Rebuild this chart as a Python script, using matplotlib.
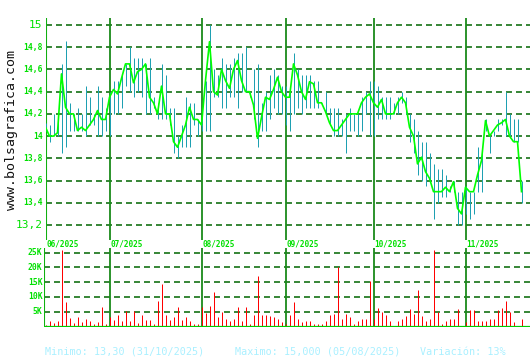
import numpy as np
import matplotlib
matplotlib.use("Agg")
import matplotlib.pyplot as plt

plt.rcParams['lines.scale_dashes'] = False

# ---------------- data (one value per trading day, 09/06/2025 .. 21/11/2025) -------------
close = [14.08, 14.00, 14.00, 14.03, 14.56, 14.26, 14.20, 14.20, 14.05, 14.08,
         14.05, 14.10, 14.15, 14.23, 14.15, 14.15, 14.35, 14.42, 14.38, 14.52,
         14.65, 14.65, 14.48, 14.58, 14.60, 14.65, 14.35, 14.30, 14.20, 14.45,
         14.20, 14.20, 13.95, 13.90, 14.00, 14.10, 14.26, 14.15, 14.15, 14.10,
         14.50, 14.85, 14.40, 14.37, 14.60, 14.50, 14.43, 14.60, 14.68, 14.50,
         14.40, 14.40, 14.28, 13.98, 14.17, 14.35, 14.33, 14.42, 14.53, 14.40,
         14.35, 14.35, 14.65, 14.55, 14.40, 14.33, 14.49, 14.47, 14.30, 14.30,
         14.22, 14.12, 14.05, 14.05, 14.10, 14.15, 14.20, 14.20, 14.20, 14.30,
         14.35, 14.38, 14.30, 14.26, 14.33, 14.20, 14.20, 14.20, 14.30, 14.35,
         14.30, 14.08, 14.00, 13.75, 13.81, 13.68, 13.62, 13.50, 13.50, 13.50,
         13.54, 13.50, 13.59, 13.35, 13.30, 13.54, 13.50, 13.50, 13.65, 13.78,
         14.14, 14.00, 14.05, 14.10, 14.12, 14.15, 14.00, 13.95, 13.95, 13.50]
high = [14.12, 14.10, 14.20, 14.20, 14.65, 14.86, 14.30, 14.20, 14.25, 14.20,
        14.45, 14.35, 14.20, 14.45, 14.35, 14.25, 14.40, 14.50, 14.50, 14.55,
        14.65, 14.80, 14.70, 14.70, 14.70, 14.65, 14.70, 14.35, 14.30, 14.65,
        14.55, 14.25, 14.25, 14.00, 14.10, 14.35, 14.30, 14.30, 14.15, 14.20,
        14.50, 15.00, 14.60, 14.55, 14.70, 14.65, 14.65, 14.70, 14.75, 14.75,
        14.80, 14.40, 14.60, 14.65, 14.30, 14.40, 14.55, 14.60, 14.55, 14.45,
        14.45, 14.40, 14.75, 14.60, 14.55, 14.55, 14.55, 14.50, 14.50, 14.30,
        14.40, 14.25, 14.25, 14.25, 14.15, 14.20, 14.25, 14.20, 14.20, 14.35,
        14.40, 14.50, 14.50, 14.45, 14.35, 14.35, 14.35, 14.30, 14.35, 14.40,
        14.35, 14.20, 14.15, 14.05, 13.95, 13.95, 13.85, 13.75, 13.70, 13.70,
        13.65, 13.55, 13.60, 13.50, 13.50, 13.55, 13.50, 13.50, 13.90, 13.90,
        14.15, 14.00, 14.05, 14.15, 14.15, 14.40, 14.20, 14.15, 14.15, 13.60]
low = [14.05, 13.95, 14.00, 14.00, 13.85, 13.90, 14.05, 14.05, 14.05, 14.05,
       14.00, 14.10, 14.10, 14.00, 14.00, 14.05, 14.00, 14.20, 14.20, 14.25,
       14.45, 14.40, 14.35, 14.40, 14.35, 14.20, 14.20, 14.25, 14.15, 14.15,
       14.15, 14.10, 13.85, 13.80, 13.90, 13.90, 13.90, 14.10, 14.00, 14.05,
       14.05, 14.05, 14.35, 14.35, 14.25, 14.25, 14.35, 14.35, 14.25, 14.40,
       14.40, 14.35, 14.15, 13.90, 14.05, 14.05, 14.15, 14.25, 14.20, 14.20,
       14.10, 14.05, 14.20, 14.25, 14.20, 14.25, 14.25, 14.25, 14.25, 14.28,
       14.20, 14.10, 14.00, 14.00, 14.00, 13.85, 14.05, 14.05, 14.00, 14.05,
       14.20, 14.00, 14.00, 14.15, 14.15, 14.15, 14.15, 14.20, 14.20, 14.30,
       14.20, 13.95, 13.85, 13.65, 13.60, 13.55, 13.60, 13.25, 13.40, 13.45,
       13.45, 13.50, 13.50, 13.20, 13.20, 13.30, 13.25, 13.30, 13.50, 13.50,
       14.05, 13.85, 14.00, 14.05, 14.10, 14.00, 14.00, 13.95, 13.95, 13.40]
volume_k = [0.45, 1.8, 1.1, 1.8, 25.9, 8.3, 2.8, 1.1, 3.1, 1.5,
            2.5, 1.8, 0.7, 1.4, 6.6, 0.7, 3.1, 2.2, 3.8, 1.8,
            5.3, 1.8, 5.2, 1.1, 3.8, 2.2, 2.2, 0.7, 8.6, 14.3,
            3.8, 2.2, 3.2, 6.5, 2.2, 3.2, 1.8, 1.0, 0.7, 6.5,
            4.5, 6.9, 11.7, 3.1, 4.9, 2.7, 1.8, 2.5, 6.6, 1.8,
            6.5, 0.7, 3.8, 17.0, 3.8, 3.8, 3.6, 3.3, 2.4, 1.4,
            0.7, 3.8, 8.3, 2.4, 1.4, 1.8, 2.0, 0.7, 1.0, 0.7,
            2.0, 3.8, 4.4, 20.0, 2.4, 4.1, 3.1, 0.7, 2.0, 2.4,
            2.4, 15.3, 2.7, 6.1, 4.9, 3.8, 2.0, 0.3, 1.7, 2.7,
            3.4, 5.8, 4.1, 12.3, 3.4, 2.0, 2.7, 25.9, 4.8, 1.0,
            1.7, 2.4, 2.4, 5.8, 0.1, 1.4, 5.5, 5.5, 2.0, 2.0,
            2.0, 2.7, 2.7, 5.5, 6.1, 8.5, 4.8, 1.4, 0.3, 2.4]
month_labels = ['06/2025', '07/2025', '08/2025', '09/2025', '10/2025', '11/2025']
month_start = [0, 16, 39, 60, 82, 105]
price_ticks = [13.2, 13.4, 13.6, 13.8, 14.0, 14.2, 14.4, 14.6, 14.8, 15.0]
price_tick_labels = ['13,2', '13,4', '13,6', '13,8', '14', '14,2', '14,4', '14,6', '14,8', '15']
vol_ticks = [5, 10, 15, 20, 25]
vol_tick_labels = ['5K', '10K', '15K', '20K', '25K']
footer = ['Minimo: 13,30 (31/10/2025)', 'Maximo: 15,000 (05/08/2025)', 'Variación: 13%']

# ---------------- styling ----------------
W, H = 530, 360
BAR = '#1ea0b2'
LINE = '#00ff00'
GRID = '#006400'
MONTH = '#1a8a1a'
AXIS = '#10b010'
TXT = '#00e000'
FOOT = '#aaf0ff'
MONO = 'DejaVu Sans Mono'
DASH = (0, (4.3, 2.9))

def box(x0, y0, x1, y1):
    return [x0 / W, 1 - y1 / H, (x1 - x0) / W, (y1 - y0) / H]

fig = plt.figure(figsize=(W / 100, H / 100), dpi=100)
fig.patch.set_facecolor('white')

x = np.arange(len(close))

# ---- price panel ----
ax = fig.add_axes(box(45.5, 18, 530.5, 240))
ax.set_xlim(0, 121.25)
ax.set_ylim(13.065, 15.063)
ax.axis('off')
for v in price_ticks:
    ax.axhline(v, color=GRID, lw=1.1, ls=DASH, zorder=1)
for p in month_start[1:]:
    ax.axvline(p, color=MONTH, lw=1.3, zorder=2)
ax.axvline(0, color=AXIS, lw=1.5, zorder=2)
ax.vlines(x, low, high, color=BAR, lw=0.72, zorder=3)
ax.plot(x, close, color=LINE, lw=1.2, zorder=4)

ytr = ax.get_yaxis_transform()
for v, lab in zip(price_ticks, price_tick_labels):
    big = lab in ('15', '13,2')
    ax.text(-3 / 485, v, lab, transform=ytr, ha='right', va='center',
            family=MONO, fontsize=8.0 if big else 5.8,
            fontweight='normal' if big else 'bold', color=TXT)

xtr = ax.get_xaxis_transform()
for p, lab in zip(month_start, month_labels):
    ax.text(p + 0.25, -4 / 222, lab, transform=xtr, ha='left', va='center',
            family=MONO, fontsize=5.6, fontweight='bold', color=TXT, clip_on=False)

# ---- volume panel ----
av = fig.add_axes(box(43.5, 248, 530.5, 326.5))
av.set_xlim(-0.5, 121.25)
av.set_ylim(0, 26.6)
av.axis('off')
for v in vol_ticks:
    av.axhline(v, color=GRID, lw=1.1, ls=DASH, zorder=1)
for p in month_start[1:]:
    av.axvline(p, color=MONTH, lw=1.3, zorder=2)
av.axvline(-0.5, color=AXIS, lw=1.5, zorder=2)
av.vlines(x, 0, volume_k, color='#ff0000', lw=0.72, zorder=3)
av.axhline(0, color='#00cc00', lw=1.6, zorder=4)
vtr = av.get_yaxis_transform()
for v, lab in zip(vol_ticks, vol_tick_labels):
    av.text(-1 / 487, v, lab, transform=vtr, ha='right', va='center',
            family=MONO, fontsize=5.8, fontweight='bold', color=TXT)

# ---- watermark & footer ----
fig.text(12 / W, 1 - 130 / H, 'www.bolsagrafica.com', rotation=90, ha='center',
         va='center', family=MONO, fontsize=9.5, color='#111111')
for xpx, t in zip([45, 235, 420], footer):
    fig.text(xpx / W, 1 - 352 / H, t, ha='left', va='center', family=MONO,
             fontsize=7.3, color=FOOT)

fig.savefig('out.png', dpi=100, facecolor='white')
